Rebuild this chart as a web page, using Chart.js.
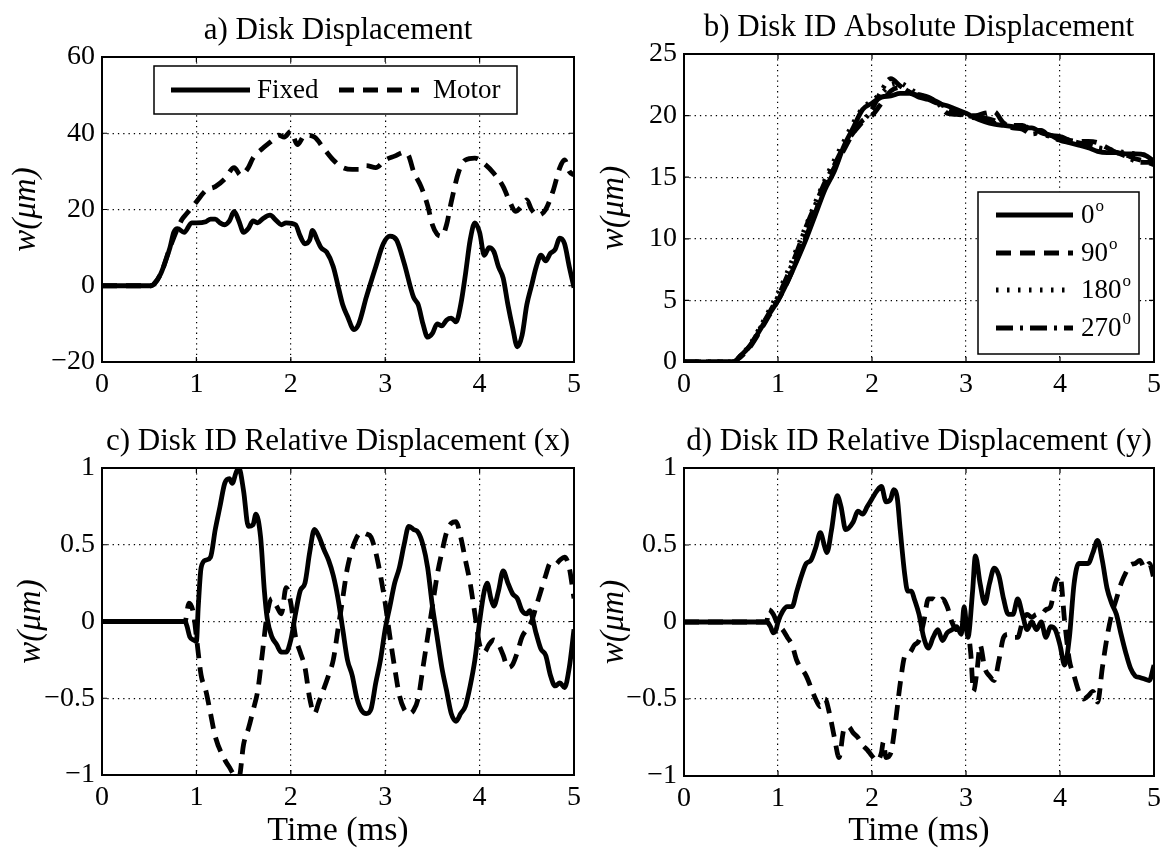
<!DOCTYPE html>
<html>
<head>
<meta charset="utf-8">
<title>Disk displacement</title>
<script src="https://cdn.jsdelivr.net/npm/chart.js@4.4.1/dist/chart.umd.min.js"></script>
<style>
  html, body { margin: 0; padding: 0; background: #fff; }
  #wrap { position: relative; width: 1170px; height: 854px; overflow: hidden; background: #fff; }
  #wrap canvas { position: absolute; }
</style>
</head>
<body>
<div id="wrap">
  <canvas id="cA" width="590" height="420" style="left:0;top:0"></canvas>
  <canvas id="cB" width="590" height="420" style="left:580px;top:0"></canvas>
  <canvas id="cC" width="590" height="434" style="left:0;top:420px"></canvas>
  <canvas id="cD" width="590" height="434" style="left:580px;top:420px"></canvas>
</div>
<script>
// ---- data (time in ms, w in um) ----
var TIME_TICKS = [0, 1, 2, 3, 4, 5];

// a) Disk Displacement
var aFixedT = [0, 0.52, 0.55, 0.62, 0.68, 0.72, 0.76, 0.8, 0.87, 0.95, 1.0, 1.1, 1.15, 1.2, 1.25, 1.3, 1.35, 1.4, 1.45, 1.5, 1.55, 1.6, 1.65, 1.7, 1.78, 1.85, 1.9, 1.95, 2.05, 2.1, 2.15, 2.2, 2.23, 2.28, 2.32, 2.38, 2.45, 2.5, 2.55, 2.6, 2.67, 2.72, 2.8, 2.9, 2.98, 3.05, 3.12, 3.2, 3.3, 3.35, 3.4, 3.45, 3.5, 3.55, 3.6, 3.65, 3.7, 3.75, 3.8, 3.85, 3.9, 3.95, 4.0, 4.05, 4.1, 4.15, 4.2, 4.25, 4.3, 4.35, 4.4, 4.45, 4.5, 4.55, 4.6, 4.65, 4.7, 4.75, 4.8, 4.85, 4.9, 4.95, 5.0];
var aFixedW = [0, 0, 0.5, 3, 7, 10, 14, 15, 14, 16.5, 16.5, 16.8, 17.5, 17.5, 16.5, 16, 17, 19.5, 17, 14, 15, 17, 16.5, 17.5, 18.5, 17, 16, 16.5, 16, 13, 11, 12, 14.5, 12, 10, 8.8, 5, 0, -5, -8, -11.5, -10, -3, 5, 11, 13, 12, 6, -3, -5, -10, -13.5, -12.5, -10, -10.5, -9, -8.5, -9.5, -5, 3, 12, 16.5, 14, 8, 10, 9, 5, 2, -5, -11, -16, -13, -5, 0, 5, 8, 6.5, 8.5, 9.5, 12.5, 11, 5, -0.5];
var aMotorT = [0, 0.52, 0.62, 0.72, 0.8, 0.85, 0.9, 1.0, 1.1, 1.2, 1.3, 1.4, 1.47, 1.55, 1.6, 1.7, 1.8, 1.87, 1.93, 2.0, 2.07, 2.15, 2.25, 2.35, 2.45, 2.55, 2.65, 2.72, 2.8, 2.9, 3.0, 3.1, 3.2, 3.25, 3.3, 3.38, 3.45, 3.5, 3.55, 3.6, 3.65, 3.7, 3.78, 3.85, 3.95, 4.05, 4.15, 4.25, 4.32, 4.38, 4.45, 4.5, 4.55, 4.62, 4.7, 4.78, 4.85, 4.9, 4.95, 5.0];
var aMotorW = [0, 0, 3, 10, 15, 17.5, 19, 22, 25, 26, 28, 31, 29, 31, 33.5, 36, 38, 39.5, 39, 40.5, 37, 39.5, 39, 36, 33, 31, 30.5, 30.5, 31.5, 31, 33, 34, 35, 34, 30, 26, 21, 16, 13.5, 13, 16, 22, 30, 33, 33.5, 32, 29.5, 26, 22, 19.5, 21, 22.5, 20, 18.5, 20, 25, 31, 33, 30, 29];

// b) Disk ID Absolute Displacement (four angular positions)
var bT    = [0, 0.52, 0.6, 0.7, 0.8, 0.9, 1.0, 1.1, 1.2, 1.3, 1.4, 1.5, 1.6, 1.7, 1.8, 1.9, 2.0, 2.1, 2.2, 2.3, 2.4, 2.5, 2.6, 2.7, 2.8, 2.9, 3.0, 3.1, 3.2, 3.3, 3.4, 3.5, 3.6, 3.7, 3.8, 3.9, 4.0, 4.1, 4.2, 4.3, 4.4, 4.5, 4.6, 4.7, 4.8, 4.9, 5.0];
var b0W   = [0, 0, 0.5, 1.3, 2.5, 3.8, 5, 6.5, 8.2, 10, 12, 14, 15.5, 17.5, 19, 20.5, 21, 21.5, 21.6, 21.8, 21.8, 21.5, 21.3, 21, 20.8, 20.5, 20.2, 19.8, 19.5, 19.3, 19.2, 19.1, 19, 19, 18.6, 18.4, 18, 17.8, 17.6, 17.4, 17.1, 17, 17, 16.9, 16.9, 16.8, 16.3];
var b90W  = [0, 0, 0.4, 1.2, 2.4, 3.7, 5, 6.5, 8.3, 10.2, 12.2, 14.3, 15.8, 17.2, 18.6, 19.6, 20.0, 21.0, 22.0, 22.3, 21.9, 21.6, 21.4, 21.1, 20.6, 20.3, 20.0, 20.0, 20.2, 20.3, 19.4, 19.2, 19.2, 18.8, 18.8, 18.3, 18.3, 18.0, 17.9, 17.9, 17.8, 17.4, 17.0, 16.8, 16.5, 16.3, 16.0];
var b180W = [0, 0, 0.5, 1.4, 2.7, 4.1, 5.6, 7.3, 9.2, 11.1, 13.0, 14.8, 16.4, 17.9, 19.4, 20.6, 21.2, 21.8, 22.5, 22.6, 22.2, 21.7, 21.4, 21.0, 20.7, 20.4, 20.0, 19.8, 19.6, 19.4, 19.3, 19.2, 19.2, 18.8, 18.5, 18.3, 18.0, 17.9, 17.7, 17.6, 17.4, 17.3, 17.1, 17.0, 16.9, 16.8, 16.5];
var b270W = [0, 0, 0.5, 1.3, 2.6, 3.9, 5.3, 7.0, 8.9, 11.0, 12.8, 14.6, 16.0, 17.5, 18.6, 19.5, 20.5, 22.0, 23.0, 22.4, 21.9, 21.7, 21.5, 21.0, 20.2, 20.1, 20.0, 19.9, 19.8, 19.6, 19.3, 19.0, 18.9, 18.5, 18.6, 18.4, 18.3, 18.0, 17.8, 17.6, 17.4, 17.2, 17.0, 16.7, 16.3, 16.2, 16.2];

// c) Disk ID Relative Displacement (x)
var cSolidT = [0, 0.88, 0.9, 0.93, 0.97, 1.0, 1.02, 1.05, 1.1, 1.15, 1.2, 1.25, 1.3, 1.35, 1.38, 1.42, 1.45, 1.5, 1.55, 1.6, 1.63, 1.68, 1.72, 1.75, 1.8, 1.85, 1.9, 1.95, 2.0, 2.05, 2.1, 2.15, 2.2, 2.25, 2.3, 2.35, 2.4, 2.45, 2.5, 2.55, 2.6, 2.65, 2.7, 2.75, 2.8, 2.85, 2.9, 2.95, 3.0, 3.05, 3.1, 3.15, 3.2, 3.25, 3.3, 3.35, 3.4, 3.45, 3.5, 3.55, 3.6, 3.65, 3.7, 3.75, 3.8, 3.85, 3.9, 3.95, 4.0, 4.05, 4.08, 4.12, 4.15, 4.2, 4.25, 4.3, 4.35, 4.4, 4.45, 4.5, 4.53, 4.6, 4.65, 4.7, 4.75, 4.8, 4.85, 4.9, 4.95, 5.0];
var cSolidW = [0, 0, -0.03, -0.1, -0.12, -0.13, 0.1, 0.35, 0.4, 0.42, 0.6, 0.75, 0.9, 0.93, 0.9, 0.97, 1.0, 0.85, 0.62, 0.63, 0.7, 0.55, 0.2, 0.02, -0.1, -0.15, -0.2, -0.2, -0.12, 0.05, 0.2, 0.25, 0.45, 0.6, 0.55, 0.47, 0.4, 0.3, 0.15, -0.05, -0.25, -0.35, -0.5, -0.58, -0.6, -0.57, -0.4, -0.25, -0.05, 0.1, 0.25, 0.35, 0.5, 0.62, 0.6, 0.58, 0.5, 0.35, 0.1, -0.1, -0.3, -0.45, -0.6, -0.65, -0.6, -0.55, -0.42, -0.25, 0.0, 0.2, 0.25, 0.15, 0.1, 0.2, 0.33, 0.25, 0.18, 0.15, 0.07, 0.05, 0.07, -0.08, -0.18, -0.22, -0.35, -0.42, -0.4, -0.43, -0.3, -0.05];
var cDashT = [0, 0.88, 0.92, 0.97, 1.0, 1.05, 1.1, 1.15, 1.2, 1.3, 1.35, 1.4, 1.45, 1.5, 1.55, 1.6, 1.65, 1.7, 1.75, 1.8, 1.85, 1.9, 1.95, 2.0, 2.05, 2.1, 2.15, 2.2, 2.25, 2.3, 2.4, 2.45, 2.5, 2.55, 2.6, 2.7, 2.75, 2.8, 2.85, 2.9, 2.95, 3.0, 3.05, 3.1, 3.15, 3.2, 3.25, 3.3, 3.35, 3.4, 3.45, 3.5, 3.55, 3.6, 3.65, 3.7, 3.75, 3.8, 3.85, 3.9, 3.95, 4.0, 4.05, 4.1, 4.15, 4.2, 4.25, 4.3, 4.35, 4.4, 4.45, 4.5, 4.55, 4.6, 4.65, 4.7, 4.75, 4.8, 4.85, 4.9, 4.95, 5.0];
var cDashW = [0, 0, 0.12, 0.05, -0.1, -0.35, -0.45, -0.6, -0.75, -0.9, -0.95, -1.0, -1.02, -0.8, -0.7, -0.58, -0.45, -0.2, 0.05, 0.15, 0.1, 0.05, 0.22, 0.12, -0.1, -0.2, -0.3, -0.5, -0.6, -0.52, -0.35, -0.25, -0.05, 0.15, 0.35, 0.55, 0.58, 0.57, 0.55, 0.45, 0.3, 0.12, -0.1, -0.3, -0.48, -0.57, -0.6, -0.58, -0.5, -0.3, -0.1, 0.1, 0.3, 0.45, 0.58, 0.64, 0.65, 0.55, 0.4, 0.25, 0.05, -0.15, -0.2, -0.15, -0.12, -0.15, -0.22, -0.3, -0.28, -0.2, -0.1, -0.05, 0.0, 0.1, 0.2, 0.3, 0.38, 0.37, 0.4, 0.42, 0.35, 0.15];

// d) Disk ID Relative Displacement (y)
var dSolidT = [0, 0.88, 0.92, 0.95, 0.98, 1.0, 1.05, 1.1, 1.15, 1.2, 1.25, 1.3, 1.35, 1.4, 1.45, 1.5, 1.52, 1.57, 1.63, 1.67, 1.72, 1.8, 1.85, 1.9, 1.95, 2.0, 2.05, 2.1, 2.15, 2.2, 2.23, 2.27, 2.3, 2.35, 2.38, 2.42, 2.45, 2.5, 2.55, 2.6, 2.65, 2.7, 2.75, 2.8, 2.85, 2.9, 2.95, 2.98, 3.02, 3.07, 3.1, 3.15, 3.2, 3.25, 3.3, 3.35, 3.4, 3.45, 3.5, 3.55, 3.6, 3.65, 3.7, 3.75, 3.8, 3.85, 3.9, 3.95, 4.0, 4.05, 4.1, 4.15, 4.2, 4.25, 4.3, 4.35, 4.4, 4.45, 4.5, 4.55, 4.6, 4.65, 4.7, 4.75, 4.8, 4.85, 4.9, 4.95, 5.0];
var dSolidW = [0, 0, -0.03, -0.07, -0.05, 0.0, 0.07, 0.1, 0.1, 0.2, 0.3, 0.38, 0.4, 0.48, 0.58, 0.48, 0.45, 0.6, 0.82, 0.75, 0.6, 0.65, 0.72, 0.7, 0.75, 0.8, 0.85, 0.88, 0.78, 0.8, 0.86, 0.8, 0.6, 0.3, 0.2, 0.2, 0.15, 0.05, -0.1, -0.17, -0.1, -0.05, -0.12, -0.07, -0.05, -0.03, -0.08, 0.1, -0.1, 0.2, 0.43, 0.25, 0.12, 0.25, 0.35, 0.3, 0.15, 0.05, 0.05, 0.15, 0.05, -0.05, 0.0, -0.05, 0.0, -0.1, -0.03, -0.05, -0.15, -0.28, -0.1, 0.25, 0.38, 0.38, 0.38, 0.45, 0.53, 0.4, 0.22, 0.12, 0.05, -0.08, -0.2, -0.3, -0.35, -0.36, -0.37, -0.38, -0.28];
var dDashT = [0, 0.88, 0.9, 0.95, 1.0, 1.05, 1.1, 1.15, 1.2, 1.3, 1.4, 1.45, 1.5, 1.55, 1.6, 1.65, 1.7, 1.75, 1.8, 1.85, 1.9, 1.95, 2.0, 2.05, 2.1, 2.12, 2.15, 2.2, 2.25, 2.3, 2.35, 2.4, 2.45, 2.5, 2.55, 2.6, 2.65, 2.7, 2.75, 2.8, 2.85, 2.9, 2.95, 3.0, 3.05, 3.08, 3.12, 3.15, 3.2, 3.25, 3.3, 3.35, 3.4, 3.45, 3.5, 3.55, 3.6, 3.65, 3.7, 3.75, 3.8, 3.85, 3.9, 3.95, 4.0, 4.05, 4.1, 4.15, 4.2, 4.25, 4.3, 4.35, 4.4, 4.45, 4.5, 4.55, 4.6, 4.65, 4.7, 4.75, 4.8, 4.85, 4.9, 4.95, 5.0];
var dDashW = [0, 0, 0.08, 0.05, -0.02, -0.05, -0.1, -0.15, -0.25, -0.35, -0.5, -0.55, -0.5, -0.6, -0.75, -0.88, -0.7, -0.68, -0.72, -0.75, -0.8, -0.83, -0.87, -0.9, -0.85, -0.78, -0.88, -0.85, -0.65, -0.4, -0.22, -0.2, -0.15, -0.12, 0.0, 0.15, 0.15, 0.13, 0.15, 0.1, 0.0, -0.05, -0.05, 0.0, -0.2, -0.45, -0.3, -0.15, -0.3, -0.35, -0.38, -0.25, -0.1, -0.08, -0.1, -0.1, 0.0, 0.05, 0.03, 0.05, 0.05, 0.08, 0.1, 0.25, 0.3, 0.0, -0.25, -0.35, -0.45, -0.5, -0.48, -0.45, -0.52, -0.3, -0.1, 0.05, 0.15, 0.25, 0.32, 0.37, 0.38, 0.4, 0.35, 0.38, 0.28];

// ---- styling ----
var FONT = "'Liberation Serif', 'Times New Roman', Times, serif";
var LINE_W = 4.8;
var DASH = [15, 9], DOT = [2.5, 8.5], DASHDOT = [17, 7, 3, 7];
var GRID_DASH = [1.3, 4];
var TICK_SIZE = 28, TITLE_SIZE = 31, LABEL_SIZE = 33, LEGEND_SIZE = 27;

// legend boxes, offsets relative to the plot area's top-left corner
var LEGENDS = {
  cA: { dx: 52, dy: 9, w: 363, h: 48, items: [
    { x1: 17, x2: 96, tx: 103, y: 24 },
    { x1: 185, x2: 265, tx: 279, y: 24 }
  ] },
  cB: { dx: 294, dy: 138, w: 161, h: 162, items: [
    { x1: 18, x2: 95, tx: 103, y: 23, sup: 'o' },
    { x1: 18, x2: 95, tx: 103, y: 61, sup: 'o' },
    { x1: 18, x2: 95, tx: 103, y: 98, sup: 'o' },
    { x1: 18, x2: 95, tx: 103, y: 136, sup: '0' }
  ] }
};

function minus(v) { return String(v).replace('-', '\u2212'); }

function pairs(t, w) { return t.map(function (x, i) { return { x: x, y: w[i] }; }); }

var framePlugin = {
  id: 'frame',
  afterDatasetsDraw: function (chart) {
    var a = chart.chartArea, ctx = chart.ctx, xs = chart.scales.x, ys = chart.scales.y;
    ctx.save();
    ctx.strokeStyle = '#000';
    ctx.lineWidth = 1.2;
    ctx.beginPath();
    xs.ticks.forEach(function (t) {
      var px = xs.getPixelForValue(t.value);
      ctx.moveTo(px, a.bottom); ctx.lineTo(px, a.bottom - 5);
      ctx.moveTo(px, a.top); ctx.lineTo(px, a.top + 5);
    });
    ys.ticks.forEach(function (t) {
      var py = ys.getPixelForValue(t.value);
      ctx.moveTo(a.left, py); ctx.lineTo(a.left + 5, py);
      ctx.moveTo(a.right, py); ctx.lineTo(a.right - 5, py);
    });
    ctx.stroke();
    ctx.lineWidth = 2;
    ctx.strokeRect(a.left, a.top, a.right - a.left, a.bottom - a.top);
    ctx.restore();
  }
};

var boxLegend = {
  id: 'boxLegend',
  afterDraw: function (chart) {
    var L = LEGENDS[chart.canvas.id];
    if (!L) return;
    var a = chart.chartArea, ctx = chart.ctx;
    var x0 = a.left + L.dx, y0 = a.top + L.dy;
    ctx.save();
    ctx.fillStyle = '#fff';
    ctx.fillRect(x0, y0, L.w, L.h);
    ctx.strokeStyle = '#000';
    ctx.lineWidth = 1.5;
    ctx.strokeRect(x0, y0, L.w, L.h);
    L.items.forEach(function (it, i) {
      var ds = chart.data.datasets[i];
      var y = y0 + it.y;
      ctx.lineWidth = ds.borderWidth;
      ctx.setLineDash(ds.borderDash || []);
      ctx.beginPath();
      ctx.moveTo(x0 + it.x1, y);
      ctx.lineTo(x0 + it.x2, y);
      ctx.stroke();
      ctx.setLineDash([]);
      ctx.fillStyle = '#000';
      ctx.textAlign = 'left';
      ctx.textBaseline = 'middle';
      ctx.font = LEGEND_SIZE + 'px ' + FONT;
      ctx.fillText(ds.label, x0 + it.tx, y + 1);
      if (it.sup) {
        var w = ctx.measureText(ds.label).width;
        ctx.font = '17px ' + FONT;
        ctx.fillText(it.sup, x0 + it.tx + w + 1, y - 8);
      }
    });
    ctx.restore();
  }
};

function makePanel(id, o) {
  var datasets = o.series.map(function (s) {
    return {
      label: s.label,
      data: pairs(s.t, s.w),
      borderColor: '#000',
      borderWidth: LINE_W,
      borderDash: s.dash || [],
      borderJoinStyle: 'round',
      pointRadius: 0,
      fill: false,
      cubicInterpolationMode: 'monotone'
    };
  });
  var gridOpts = { color: '#000', lineWidth: 1.2, drawTicks: false };
  new Chart(document.getElementById(id), {
    type: 'line',
    data: { datasets: datasets },
    options: {
      responsive: false,
      animation: false,
      events: [],
      layout: { padding: 0 },
      plugins: { legend: { display: false }, tooltip: { enabled: false } },
      scales: {
        x: {
          type: 'linear', position: 'bottom', min: 0, max: 5,
          afterBuildTicks: function (s) { s.ticks = TIME_TICKS.map(function (v) { return { value: v }; }); },
          ticks: { autoSkip: false, maxRotation: 0, padding: 6, color: '#000', font: { family: FONT, size: TICK_SIZE } },
          grid: gridOpts,
          border: { display: false, dash: GRID_DASH },
          title: o.xTitle ? { display: true, text: o.xTitle, color: '#000', font: { family: FONT, size: LABEL_SIZE + 1, lineHeight: 1 }, padding: { top: 0, bottom: o.xTitlePad } } : { display: false },
          afterFit: function (s) { s.height = o.bottom; }
        },
        xt: {
          axis: 'x', type: 'linear', position: 'top', min: 0, max: 5,
          ticks: { display: false }, grid: { display: false }, border: { display: false },
          title: { display: true, text: o.title, color: '#000', font: { family: FONT, size: TITLE_SIZE, lineHeight: 1 }, padding: { top: o.titlePad, bottom: 0 } },
          afterFit: function (s) { s.height = o.top; }
        },
        y: {
          type: 'linear', position: 'left', min: o.yMin, max: o.yMax,
          afterBuildTicks: function (s) { s.ticks = o.yTicks.map(function (v) { return { value: v }; }); },
          ticks: { autoSkip: false, padding: 7, color: '#000', font: { family: FONT, size: TICK_SIZE }, callback: function (v) { return minus(v); } },
          grid: gridOpts,
          border: { display: false, dash: GRID_DASH },
          title: { display: true, text: 'w(\u03bcm)', color: '#000', font: { family: FONT, size: LABEL_SIZE, style: 'italic', lineHeight: 1 }, padding: { top: o.yTitlePad, bottom: 0 } },
          afterFit: function (s) { s.width = o.left; }
        },
        yr: {
          axis: 'y', type: 'linear', position: 'right',
          ticks: { display: false }, grid: { display: false }, border: { display: false },
          afterFit: function (s) { s.width = o.right; }
        }
      }
    },
    plugins: [framePlugin, boxLegend]
  });
}

makePanel('cA', {
  title: 'a) Disk Displacement', titlePad: 15,
  left: 102, top: 57, right: 16, bottom: 58, yTitlePad: 10,
  yMin: -20, yMax: 60, yTicks: [-20, 0, 20, 40, 60],
  series: [
    { label: 'Fixed', t: aFixedT, w: aFixedW },
    { label: 'Motor', t: aMotorT, w: aMotorW, dash: DASH }
  ]
});

makePanel('cB', {
  title: 'b) Disk ID Absolute Displacement', titlePad: 12,
  left: 104, top: 54, right: 16, bottom: 58, yTitlePad: 18,
  yMin: 0, yMax: 25, yTicks: [0, 5, 10, 15, 20, 25],
  series: [
    { label: '0', t: bT, w: b0W },
    { label: '90', t: bT, w: b90W, dash: DASH },
    { label: '180', t: bT, w: b180W, dash: DOT },
    { label: '270', t: bT, w: b270W, dash: DASHDOT }
  ]
});

makePanel('cC', {
  title: 'c) Disk ID Relative Displacement (x)', titlePad: 6,
  left: 102, top: 48, right: 16, bottom: 79, yTitlePad: 15,
  xTitle: 'Time (ms)', xTitlePad: 6,
  yMin: -1, yMax: 1, yTicks: [-1, -0.5, 0, 0.5, 1],
  series: [
    { label: 'solid', t: cSolidT, w: cSolidW },
    { label: 'dashed', t: cDashT, w: cDashW, dash: DASH }
  ]
});

makePanel('cD', {
  title: 'd) Disk ID Relative Displacement (y)', titlePad: 6,
  left: 104, top: 48, right: 16, bottom: 78, yTitlePad: 18,
  xTitle: 'Time (ms)', xTitlePad: 6,
  yMin: -1, yMax: 1, yTicks: [-1, -0.5, 0, 0.5, 1],
  series: [
    { label: 'solid', t: dSolidT, w: dSolidW },
    { label: 'dashed', t: dDashT, w: dDashW, dash: DASH }
  ]
});
</script>
</body>
</html>
